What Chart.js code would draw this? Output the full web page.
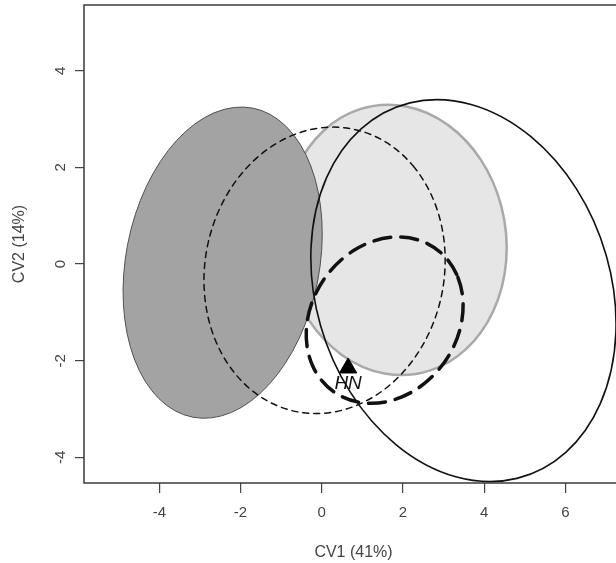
<!DOCTYPE html>
<html lang="en">
<head>
    <title>CV1 vs CV2 ellipses</title>
    <script src="https://cdn.jsdelivr.net/npm/chart.js"></script>
    <style>
        html, body { margin: 0; padding: 0; background: #fff; overflow: hidden; }
        #chartContainer { width: 640px; height: 563px; }
    </style>
</head>
<body>

<div id="chartContainer">
    <canvas id="cvChart" width="640" height="563"></canvas>
</div>

<script>
// Axis ticks
const xTicks = [-4, -2, 0, 2, 4, 6];
const yTicks = [-4, -2, 0, 2, 4];

// Ellipses (data units): centre, semi-axes, rotation in degrees
const ellipseNames = ['light', 'dark', 'thinDash', 'thickDash', 'solid'];
const ellipseCx = [1.80, -2.44, 0.07, 1.55, 3.49];
const ellipseCy = [0.50, 0.03, -0.13, -1.16, -0.55];
const ellipseA = [2.86, 3.29, 3.07, 2.01, 4.19];
const ellipseB = [2.69, 2.36, 2.86, 1.63, 3.49];
const ellipseAngle = [-52, 73, 44, 28, -53];

// Marker
const markerX = [0.65];
const markerY = [-2.15];
const markerLabel = ['HN'];

// How each ellipse is drawn
const ellipseStyle = {
    light:     { fill: '#e6e6e6', stroke: '#a9a9a9', width: 2.5, dash: [] },
    dark:      { fill: '#a3a3a3', stroke: '#505050', width: 1, dash: [] },
    thinDash:  { fill: null, stroke: '#111', width: 1.5, dash: [6, 5] },
    thickDash: { fill: null, stroke: '#111', width: 3.5, dash: [17, 10] },
    solid:     { fill: null, stroke: '#111', width: 1.6, dash: [] }
};

const FONT = '"Liberation Sans", Arial, sans-serif';

// Draws the ellipses through the chart's scales
const ellipsePlugin = {
    id: 'ellipses',
    beforeDatasetsDraw(chart) {
        const { ctx, chartArea, scales } = chart;
        const sx = scales.x.getPixelForValue(1) - scales.x.getPixelForValue(0);
        const sy = scales.y.getPixelForValue(0) - scales.y.getPixelForValue(1);
        ctx.save();
        ctx.beginPath();
        ctx.rect(chartArea.left, chartArea.top, chartArea.right - chartArea.left, chartArea.bottom - chartArea.top);
        ctx.clip();
        ellipseNames.forEach((name, i) => {
            const st = ellipseStyle[name];
            ctx.save();
            ctx.translate(scales.x.getPixelForValue(ellipseCx[i]), scales.y.getPixelForValue(ellipseCy[i]));
            ctx.scale(sx, -sy);
            ctx.rotate(ellipseAngle[i] * Math.PI / 180);
            ctx.beginPath();
            ctx.ellipse(0, 0, ellipseA[i], ellipseB[i], 0, 0, Math.PI * 2);
            ctx.restore();
            if (st.fill) {
                ctx.fillStyle = st.fill;
                ctx.fill();
            }
            ctx.strokeStyle = st.stroke;
            ctx.lineWidth = st.width;
            ctx.lineCap = 'round';
            ctx.setLineDash(st.dash);
            ctx.stroke();
        });
        ctx.restore();
    },
    afterDraw(chart) {
        const { ctx, chartArea, scales } = chart;
        ctx.save();
        // box round the plot
        ctx.strokeStyle = '#3a3a3a';
        ctx.lineWidth = 1.5;
        ctx.strokeRect(chartArea.left, chartArea.top, chartArea.right - chartArea.left, chartArea.bottom - chartArea.top);
        // y tick labels, turned like the axis
        ctx.fillStyle = '#444';
        ctx.font = '15px ' + FONT;
        ctx.textAlign = 'center';
        ctx.textBaseline = 'middle';
        yTicks.forEach(v => {
            ctx.save();
            ctx.translate(61, scales.y.getPixelForValue(v));
            ctx.rotate(-Math.PI / 2);
            ctx.fillText(String(v), 0, 0);
            ctx.restore();
        });
        // marker label
        ctx.fillStyle = '#111';
        ctx.font = 'italic 19px ' + FONT;
        markerLabel.forEach((txt, i) => {
            ctx.fillText(txt, scales.x.getPixelForValue(markerX[i]), scales.y.getPixelForValue(markerY[i]) + 16);
        });
        ctx.restore();
    }
};

new Chart(document.getElementById('cvChart'), {
    type: 'scatter',
    data: {
        datasets: [{
            label: 'HN',
            data: markerX.map((x, i) => ({ x: x, y: markerY[i] })),
            pointStyle: 'triangle',
            pointRadius: 10,
            backgroundColor: '#000',
            borderColor: '#000',
            borderWidth: 1
        }]
    },
    options: {
        responsive: false,
        animation: false,
        layout: { autoPadding: false, padding: { top: 5, right: 17, bottom: 0, left: 0 } },
        plugins: {
            legend: { display: false },
            tooltip: { enabled: false }
        },
        scales: {
            x: {
                type: 'linear',
                min: -5.855,
                max: 7.42,
                afterBuildTicks: s => { s.ticks = xTicks.map(v => ({ value: v })); },
                afterFit: s => { s.height = 80; },
                border: { display: false },
                grid: { drawOnChartArea: false, drawTicks: true, tickLength: 10, color: '#444', lineWidth: 1.2 },
                ticks: { color: '#444', font: { family: FONT, size: 15 }, padding: 11 },
                title: { display: true, text: 'CV1 (41%)', color: '#444', font: { family: FONT, size: 16 }, padding: { top: 0, bottom: 1 } }
            },
            y: {
                type: 'linear',
                min: -4.53,
                max: 5.36,
                afterBuildTicks: s => { s.ticks = yTicks.map(v => ({ value: v })); },
                afterFit: s => { s.width = 84; },
                border: { display: false },
                grid: { drawOnChartArea: false, drawTicks: true, tickLength: 9, color: '#444', lineWidth: 1.2 },
                ticks: { display: false },
                title: { display: true, text: 'CV2 (14%)', color: '#444', font: { family: FONT, size: 16 }, padding: { top: 10, bottom: 0 } }
            }
        }
    },
    plugins: [ellipsePlugin]
});
</script>

</body>
</html>
